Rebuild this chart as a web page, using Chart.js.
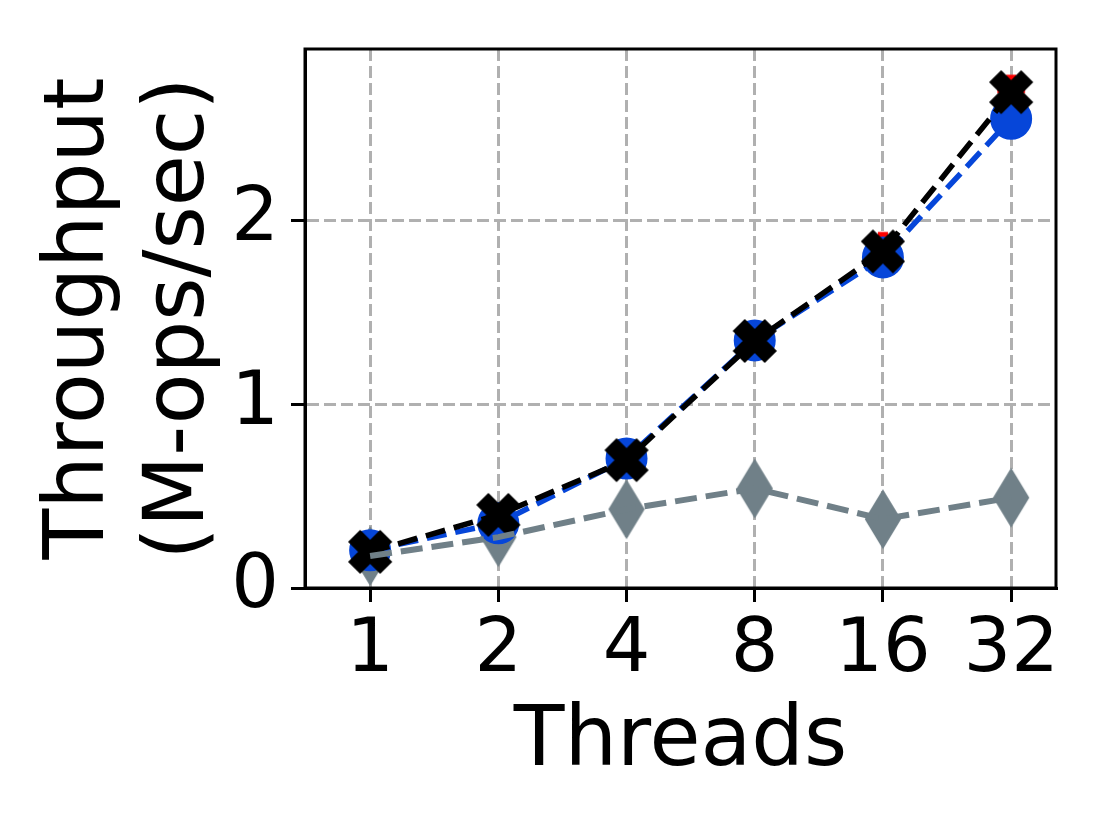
<!DOCTYPE html>
<html><head><meta charset="utf-8">
<script src="https://cdn.jsdelivr.net/npm/chart.js@4.4.0/dist/chart.umd.min.js"></script>
<style>html,body{margin:0;padding:0;background:#fff;} #wrap{width:1107px;height:830px;position:relative;}</style>
</head><body><div id="wrap"><canvas id="c" width="1107" height="830"></canvas></div>
<script>
// ---- data ----
const threads = ['1', '2', '4', '8', '16', '32'];
const blueSeries  = [0.205, 0.352, 0.705, 1.348, 1.800, 2.555];
const redSeries   = [0.203, 0.385, 0.703, 1.347, 1.864, 2.720];
const blackSeries = [0.197, 0.398, 0.696, 1.345, 1.833, 2.700];
const greySeries  = [0.174, 0.277, 0.429, 0.542, 0.375, 0.492];
const yTicks = [0, 1, 2];
const xTitle = 'Threads';
const yTitle = ['Throughput', '(M-ops/sec)'];

// ---- styles ----
const BLUE = '#0646d9', RED = '#ff0000', BLACK = '#000000', GREY = '#708088';
const FONT = 'DejaVu Sans';

function makeMarker(w, h, draw) {
  const c = document.createElement('canvas');
  c.width = w; c.height = h;
  const g = c.getContext('2d');
  g.translate(w / 2, h / 2);
  draw(g);
  return c;
}
function polyMarker(pts, scale, color, size, lw) {
  return makeMarker(size, size, g => {
    g.beginPath();
    pts.forEach((p, i) => { const x = p[0] * scale, y = p[1] * scale; i ? g.lineTo(x, y) : g.moveTo(x, y); });
    g.closePath();
    g.fillStyle = color; g.fill();
    g.lineWidth = lw; g.lineJoin = 'miter'; g.strokeStyle = color; g.stroke();
  });
}
const xShape = [[-1,-2],[0,-1],[1,-2],[2,-1],[1,0],[2,1],[1,2],[0,1],[-1,2],[-2,1],[-1,0],[-2,-1]];
const plusShape = [[-1,-3],[1,-3],[1,-1],[3,-1],[3,1],[1,1],[1,3],[-1,3],[-1,1],[-3,1],[-3,-1],[-1,-1]];
const xMarker = polyMarker(xShape, 10, BLACK, 50, 3);
const plusMarker = polyMarker(plusShape, 13 / 3, RED, 32, 1.5);
const diamondMarker = makeMarker(40, 62, g => {
  g.beginPath();
  g.moveTo(0, -28); g.lineTo(17, 0); g.lineTo(0, 28); g.lineTo(-17, 0); g.closePath();
  g.fillStyle = GREY; g.fill();
  g.lineWidth = 2; g.strokeStyle = GREY; g.stroke();
});

const pts = arr => arr.map((v, i) => ({x: i, y: v}));
const LW = 5.5, DASH = [20, 9];

const datasets = [
  { data: pts(greySeries), borderColor: GREY, borderWidth: 6, borderDash: [22, 9], pointRadius: 0, order: 0 },
  { data: pts(blackSeries), borderColor: BLACK, borderWidth: LW, borderDash: DASH, pointStyle: xMarker, pointRadius: 20, order: 1 },
  { data: pts(blueSeries), borderColor: BLUE, borderWidth: LW, borderDash: DASH, pointStyle: 'circle', pointRadius: 20,
    pointBorderWidth: 2, pointBackgroundColor: BLUE, pointBorderColor: BLUE, order: 2 },
  { data: pts(redSeries), showLine: false, borderColor: RED, pointStyle: plusMarker, pointRadius: 15, order: 3 },
  { data: pts(greySeries), showLine: false, pointStyle: diamondMarker, pointRadius: 20, order: 4 }
];

const framePlugin = {
  id: 'frame',
  afterDraw(chart) {
    const {ctx, chartArea: a} = chart;
    ctx.save();
    ctx.lineWidth = 3; ctx.strokeStyle = '#000';
    ctx.strokeRect(a.left, a.top, a.right - a.left, a.bottom - a.top);
    ctx.restore();
  }
};

new Chart(document.getElementById('c'), {
  type: 'line',
  data: { datasets },
  plugins: [framePlugin],
  options: {
    responsive: false,
    devicePixelRatio: 1,
    animation: false,
    layout: { padding: { top: 49, right: 51, left: 0, bottom: 0 } },
    plugins: { legend: { display: false }, tooltip: { enabled: false } },
    elements: { line: { tension: 0, fill: false } },
    scales: {
      x: {
        type: 'linear', min: -0.508, max: 5.35,
        afterBuildTicks: s => { s.ticks = threads.map((_, i) => ({value: i})); },
        afterFit: s => { s.height = 242; s.paddingLeft = 0; s.paddingRight = 0; },
        ticks: { includeBounds: false, autoSkip: false, maxRotation: 0, padding: 5, color: '#000',
          font: { family: FONT, size: 75 }, callback: v => threads[v] },
        grid: { color: '#b0b0b0', lineWidth: 3, tickColor: '#000', tickWidth: 3, tickLength: 14, tickBorderDash: [] },
        border: { display: true, color: '#000', width: 3, dash: [12, 5] },
        title: { display: true, text: xTitle, color: '#000', font: { family: FONT, size: 83 }, padding: { top: 0, bottom: 37 } }
      },
      y: {
        type: 'linear', min: 0, max: 2.935,
        afterBuildTicks: s => { s.ticks = yTicks.map(v => ({value: v})); },
        afterFit: s => { s.width = 305; s.paddingTop = 0; s.paddingBottom = 0; },
        ticks: { includeBounds: false, padding: 12, color: '#000', font: { family: FONT, size: 75 }, callback: v => String(v) },
        grid: { color: '#b0b0b0', lineWidth: 3, tickColor: '#000', tickWidth: 3, tickLength: 14, tickBorderDash: [] },
        border: { display: true, color: '#000', width: 3, dash: [12, 5] },
        title: { display: true, text: yTitle, color: '#000', font: { family: FONT, size: 83, lineHeight: 1.2 }, padding: { top: 32, bottom: 0 } }
      }
    }
  }
});
</script>
</body></html>
